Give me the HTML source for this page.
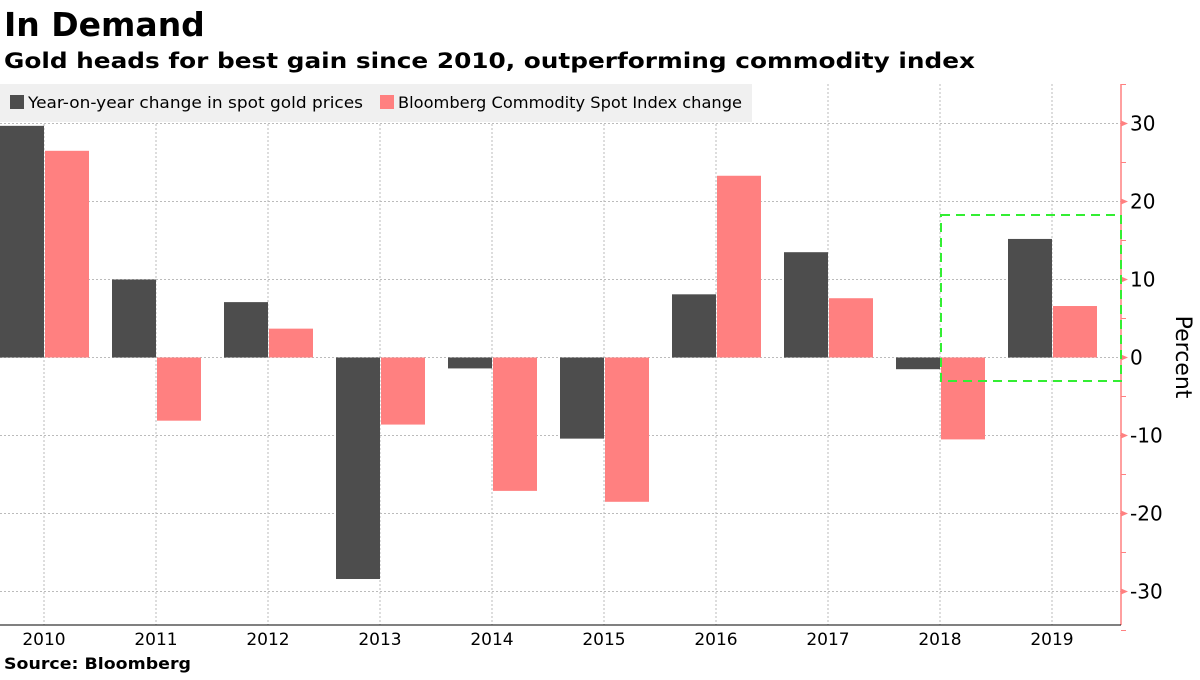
<!DOCTYPE html>
<html><head><meta charset="utf-8"><style>
body{margin:0;background:#fff;width:1200px;height:675px;overflow:hidden;font-family:"Liberation Sans",sans-serif}
svg text{font-family:"DejaVu Sans","Liberation Sans",sans-serif}
</style></head><body>
<svg id="chart" width="1200" height="675">
<text x="4" y="36" font-size="33" font-weight="bold" fill="#000">In Demand</text>
<text x="4" y="68" font-size="21" font-weight="bold" fill="#000" textLength="971" lengthAdjust="spacingAndGlyphs">Gold heads for best gain since 2010, outperforming commodity index</text>
<g id="grid"></g><g id="bars"></g><g id="axis"></g>
<rect x="0" y="84" width="752" height="38" fill="#f0f0f0"/>
<rect x="10" y="95" width="14" height="14" fill="#4d4d4d"/>
<text x="28" y="108" font-size="16" fill="#000" textLength="335" lengthAdjust="spacingAndGlyphs">Year-on-year change in spot gold prices</text>
<rect x="380" y="95" width="14" height="14" fill="#ff8080"/>
<text x="398" y="108" font-size="16" fill="#000" textLength="344" lengthAdjust="spacingAndGlyphs">Bloomberg Commodity Spot Index change</text>
<rect x="941" y="215" width="180" height="166" fill="none" stroke="#33ee33" stroke-width="2" stroke-dasharray="9,6"/>
<text transform="translate(1176,357) rotate(90)" text-anchor="middle" font-size="22" fill="#000">Percent</text>
<text x="4" y="669" font-size="16" font-weight="bold" fill="#000" textLength="187" lengthAdjust="spacingAndGlyphs">Source: Bloomberg</text>
</svg>
<script>
const categories=["2010","2011","2012","2013","2014","2015","2016","2017","2018","2019"];
const goldValues=[29.7,10.0,7.1,-28.4,-1.4,-10.4,8.1,13.5,-1.5,15.2];
const commodityValues=[26.5,-8.1,3.7,-8.6,-17.1,-18.5,23.3,7.6,-10.5,6.6];
const yTicks=[30,20,10,0,-10,-20,-30];
const NS="http://www.w3.org/2000/svg";
const y=v=>357.5-v*7.8;
const xc=i=>44+112*i;
function mk(t,a,p){const e=document.createElementNS(NS,t);for(const k in a)e.setAttribute(k,a[k]);document.getElementById(p).appendChild(e);return e;}
yTicks.forEach(t=>{
 const g=mk('line',{x1:0,x2:1121,y1:y(t),y2:y(t),stroke:'#bbb','stroke-dasharray':'2,2'},'grid');
 
 
 const tk=mk('path',{d:`M1121,${y(t)-3}L1128,${y(t)}L1121,${y(t)+3}Z`,fill:'#ff8080'},'axis');
 
 
 const l=mk('text',{x:1130,y:y(t)+7,'font-size':20,fill:'#000'},'axis');
 l.textContent=t<0?'-'+(-t):String(t);
 
 
});
for(let t=-35;t<=35;t+=10){const m=mk('line',{x1:1121,x2:1126,y1:y(t),y2:y(t),stroke:'#ff8080'},'axis');
 
 }
categories.forEach((c,i)=>{
 const g=mk('line',{x1:xc(i),x2:xc(i),y1:84,y2:625,stroke:'#bbb','stroke-dasharray':'2,2'},'grid');
 
 
 const gv=goldValues[i],cv=commodityValues[i];
 const b1=mk('rect',{x:xc(i)-44,width:44,y:Math.min(y(0),y(gv)),height:Math.abs(y(gv)-y(0)),fill:'#4d4d4d'},'bars');
 
 
 const b2=mk('rect',{x:xc(i)+1,width:44,y:Math.min(y(0),y(cv)),height:Math.abs(y(cv)-y(0)),fill:'#ff8080'},'bars');
 
 
 const l=mk('text',{x:xc(i),y:645,'text-anchor':'middle','font-size':17,fill:'#000'},'axis');
 l.textContent=c;
 
 
});
const ax=mk('line',{x1:1121,x2:1121,y1:84,y2:625,stroke:'#ff8080','stroke-width':1.5},'axis');


const bx=mk('line',{x1:0,x2:1121,y1:625,y2:625,stroke:'#000'},'axis');


</script>
</body></html>
